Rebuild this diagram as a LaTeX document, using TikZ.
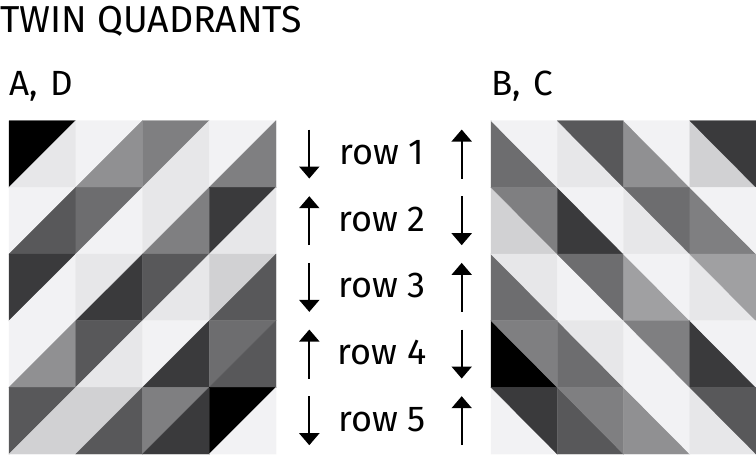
\documentclass[tikz,border=0pt]{standalone}
\usepackage{fontspec}
\setmainfont{Fira Sans}
\usetikzlibrary{arrows.meta}
\definecolor{K0}{HTML}{000000}
\definecolor{K1}{HTML}{3A3A3C}
\definecolor{K2}{HTML}{58585A}
\definecolor{K3}{HTML}{6D6D6F}
\definecolor{K4}{HTML}{7F7F81}
\definecolor{K5}{HTML}{909092}
\definecolor{K5b}{HTML}{A0A0A2}
\definecolor{K6}{HTML}{D1D1D3}
\definecolor{K7}{HTML}{E7E7E9}
\definecolor{K8}{HTML}{F2F2F4}
\tikzset{
  tri/.style={fill=#1, draw=#1, line width=0.3pt, line join=miter},
  arr/.style={line width=2pt, -{Triangle[width=20pt,length=12pt]}},
  rowlabel/.style={font=\fontsize{36}{42}\selectfont, anchor=base, inner sep=0pt},
  head/.style={font=\fontsize{35}{40}\selectfont, anchor=base west, inner sep=0pt},
}
\begin{document}
\begin{tikzpicture}[x=1pt,y=-1pt]
\useasboundingbox (0,0) rectangle (756,455);
\fill[white] (0,0) rectangle (756,455);
% left grid: diagonal from bottom-left to top-right
\def\W{66.75}\def\H{66.67}
\foreach \r/\c/\a/\b in {
 1/1/K0/K7, 1/2/K8/K5, 1/3/K4/K7, 1/4/K8/K4,
 2/1/K8/K2, 2/2/K3/K8, 2/3/K7/K4, 2/4/K1/K7,
 3/1/K1/K8, 3/2/K7/K1, 3/3/K2/K7, 3/4/K6/K2,
 4/1/K8/K5, 4/2/K2/K7, 4/3/K8/K1, 4/4/K3/K2,
 5/1/K2/K6, 5/2/K6/K2, 5/3/K4/K1, 5/4/K0/K8}{
  \pgfmathsetmacro\xa{9+(\c-1)*\W}
  \pgfmathsetmacro\ya{120.7+(\r-1)*\H}
  \pgfmathsetmacro\xb{\xa+\W}
  \pgfmathsetmacro\yb{\ya+\H}
  \filldraw[tri=\a] (\xa,\ya) -- (\xb,\ya) -- (\xa,\yb) -- cycle;
  \filldraw[tri=\b] (\xb,\ya) -- (\xb,\yb) -- (\xa,\yb) -- cycle;
}
% right grid: diagonal from top-left to bottom-right
\def\Wr{66.25}
\foreach \r/\c/\a/\b in {
 1/1/K3/K8, 1/2/K7/K2, 1/3/K5/K8, 1/4/K6/K1,
 2/1/K6/K4, 2/2/K1/K8, 2/3/K7/K3, 2/4/K4/K8,
 3/1/K3/K7, 3/2/K8/K3, 3/3/K5b/K8, 3/4/K7/K5b,
 4/1/K0/K4, 4/2/K3/K7, 4/3/K8/K4, 4/4/K1/K8,
 5/1/K8/K1, 5/2/K2/K4, 5/3/K5/K8, 5/4/K7/K2}{
  \pgfmathsetmacro\xa{491+(\c-1)*\Wr}
  \pgfmathsetmacro\ya{120.7+(\r-1)*\H}
  \pgfmathsetmacro\xb{\xa+\Wr}
  \pgfmathsetmacro\yb{\ya+\H}
  \filldraw[tri=\a] (\xa,\ya) -- (\xb,\yb) -- (\xa,\yb) -- cycle;
  \filldraw[tri=\b] (\xa,\ya) -- (\xb,\ya) -- (\xb,\yb) -- cycle;
}
% texts
\node[anchor=base west, inner sep=0pt, font=\fontsize{37.5}{42}\selectfont] (title) at (0,32) {TWIN QUADRANTS};
\node[head] (ad) at (9,95) {A,\hspace{3pt} D};
\node[head] (bc) at (491,95) {B,\hspace{3pt} C};
\foreach \r/\dl in {1/1,2/-1,3/1,4/-1,5/1}{
  \pgfmathsetmacro\yc{120.7+(\r-0.5)*66.67}
  \node[rowlabel] (row\r) at (382,\yc+10.5) {row \r};
  \coordinate (lt\r) at (309.3,\yc-24.5*\dl);
  \coordinate (lb\r) at (309.3,\yc+24.5*\dl);
  \coordinate (rt\r) at (461.7,\yc+24.5*\dl);
  \coordinate (rb\r) at (461.7,\yc-24.5*\dl);
  \draw[arr] (lt\r) -- (lb\r);
  \draw[arr] (rt\r) -- (rb\r);
}
\end{tikzpicture}
\end{document}
